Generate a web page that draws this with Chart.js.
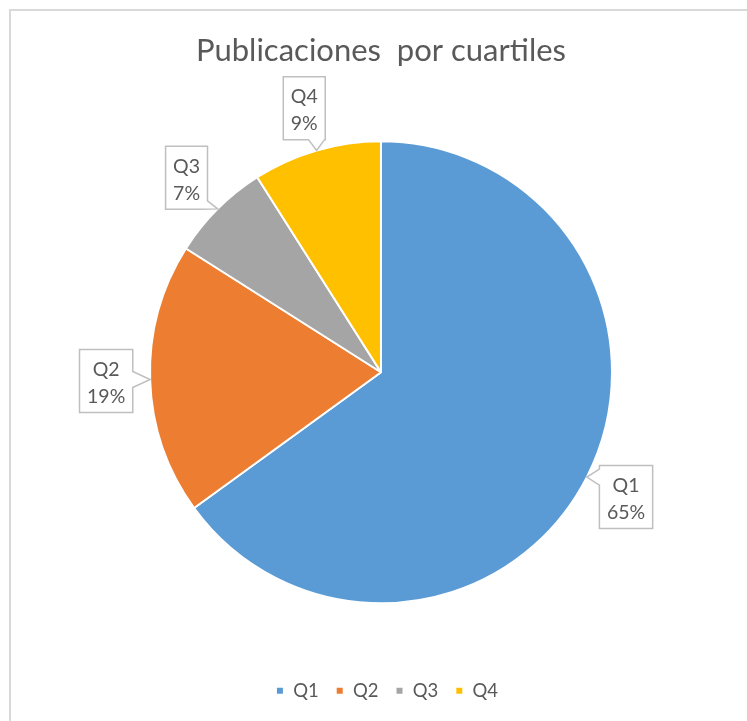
<!DOCTYPE html>
<html lang="es">
<head>
    <meta charset="UTF-8">
    <title>Publicaciones por cuartiles</title>
    <script src="https://cdn.jsdelivr.net/npm/chart.js"></script>
    <style>
        html, body {
            margin: 0;
            padding: 0;
            background: #ffffff;
            overflow: hidden;
        }
        .frame {
            position: absolute;
            left: 9px;
            top: 9px;
            width: 800px;
            height: 800px;
            border-left: 2px solid #d9d9d9;
            border-top: 2px solid #d9d9d9;
        }
        .chart-box {
            position: absolute;
            left: 0;
            top: 0;
            width: 747px;
            height: 721px;
        }
    </style>
</head>
<body>
    <div class="frame"></div>
    <div class="chart-box">
        <canvas id="pieChart"></canvas>
    </div>

    <script>
        // Data
        const categories = ['Q1', 'Q2', 'Q3', 'Q4'];
        const shares = [65, 19, 7, 9];
        const sliceColors = ['#5b9bd5', '#ed7d31', '#a5a5a5', '#ffc000'];
        const chartTitle = 'Publicaciones  por cuartiles';

        const textColor = '#595959';
        const fontFamily = 'Lato, "Liberation Sans", sans-serif';

        // point on a rectangle outline, walking clockwise from the top-left corner
        function perimPoint(r, s) {
            const w = r.x1 - r.x0, h = r.y1 - r.y0, P = 2 * (w + h);
            s = ((s % P) + P) % P;
            if (s < w) return [r.x0 + s, r.y0];
            s -= w;
            if (s < h) return [r.x1, r.y0 + s];
            s -= h;
            if (s < w) return [r.x1 - s, r.y1];
            s -= w;
            return [r.x0, r.y1 - s];
        }

        function perimParam(r, px, py) {
            const w = r.x1 - r.x0, h = r.y1 - r.y0;
            const cx = Math.min(Math.max(px, r.x0), r.x1);
            const cy = Math.min(Math.max(py, r.y0), r.y1);
            if (cy === r.y0) return cx - r.x0;
            if (cx === r.x1) return w + (cy - r.y0);
            if (cy === r.y1) return w + h + (r.x1 - cx);
            return 2 * w + h + (r.y1 - cy);
        }

        // Callout labels (box with a tail pointing at the slice)
        const calloutLabels = {
            id: 'calloutLabels',
            afterLayout(chart) {
                // legend sits a little right of the title in the original
                chart.legend.left += 6;
                chart.legend.right += 6;
            },
            afterDatasetsDraw(chart) {
                const ctx = chart.ctx;
                const meta = chart.getDatasetMeta(0);
                const total = shares.reduce((a, b) => a + b, 0);
                const lineGap = 27;
                const labelDist = 275;

                ctx.save();
                ctx.font = '19.5px ' + fontFamily;
                meta.data.forEach((arc, i) => {
                    const mid = (arc.startAngle + arc.endAngle) / 2;
                    const cx = arc.x + Math.cos(mid) * labelDist;
                    const cy = arc.y + Math.sin(mid) * labelDist;
                    const tipX = arc.x + Math.cos(mid) * arc.outerRadius;
                    const tipY = arc.y + Math.sin(mid) * arc.outerRadius;

                    const line1 = categories[i];
                    const line2 = Math.round(shares[i] / total * 100) + '%';
                    const tw = Math.max(ctx.measureText(line1).width, ctx.measureText(line2).width);
                    const bw = tw + 15;
                    const bh = 63;
                    const r = { x0: cx - bw / 2, y0: cy - bh / 2, x1: cx + bw / 2, y1: cy + bh / 2 };
                    const w = r.x1 - r.x0, h = r.y1 - r.y0, P = 2 * (w + h);

                    // outline with tail
                    const s0 = perimParam(r, tipX, tipY);
                    const hw = 8;
                    const sStart = s0 + hw, sEnd = s0 - hw + P;
                    const corners = [0, w, w + h, 2 * w + h, P, P + w, P + w + h, P + 2 * w + h];
                    ctx.beginPath();
                    let p = perimPoint(r, sStart);
                    ctx.moveTo(p[0], p[1]);
                    corners.forEach(c => {
                        if (c > sStart && c < sEnd) {
                            const q = perimPoint(r, c);
                            ctx.lineTo(q[0], q[1]);
                        }
                    });
                    p = perimPoint(r, sEnd);
                    ctx.lineTo(p[0], p[1]);
                    ctx.lineTo(tipX, tipY);
                    ctx.closePath();
                    ctx.fillStyle = '#ffffff';
                    ctx.fill();
                    ctx.strokeStyle = '#bfbfbf';
                    ctx.lineWidth = 1.5;
                    ctx.stroke();

                    ctx.fillStyle = textColor;
                    ctx.textAlign = 'center';
                    ctx.textBaseline = 'alphabetic';
                    ctx.fillText(line1, cx, cy - 5);
                    ctx.fillText(line2, cx, cy - 5 + lineGap);
                });
                ctx.restore();
            }
        };

        const ctx = document.getElementById('pieChart').getContext('2d');
        const pieChart = new Chart(ctx, {
            type: 'pie',
            data: {
                labels: categories,
                datasets: [{
                    data: shares,
                    backgroundColor: sliceColors,
                    borderColor: '#ffffff',
                    borderWidth: 2
                }]
            },
            options: {
                responsive: true,
                maintainAspectRatio: false,
                animation: false,
                layout: {
                    padding: { left: 149, right: 134, top: 0, bottom: 11 }
                },
                plugins: {
                    title: {
                        display: true,
                        text: chartTitle,
                        color: textColor,
                        font: { family: fontFamily, size: 31, weight: 'normal' },
                        padding: { top: 32, bottom: 10.8 }
                    },
                    legend: {
                        position: 'bottom',
                        labels: {
                            color: textColor,
                            boxWidth: 8,
                            boxHeight: 8,
                            padding: 17,
                            font: { family: fontFamily, size: 18.5 }
                        }
                    },
                    tooltip: { enabled: false }
                }
            },
            plugins: [calloutLabels]
        });
    </script>
</body>
</html>
